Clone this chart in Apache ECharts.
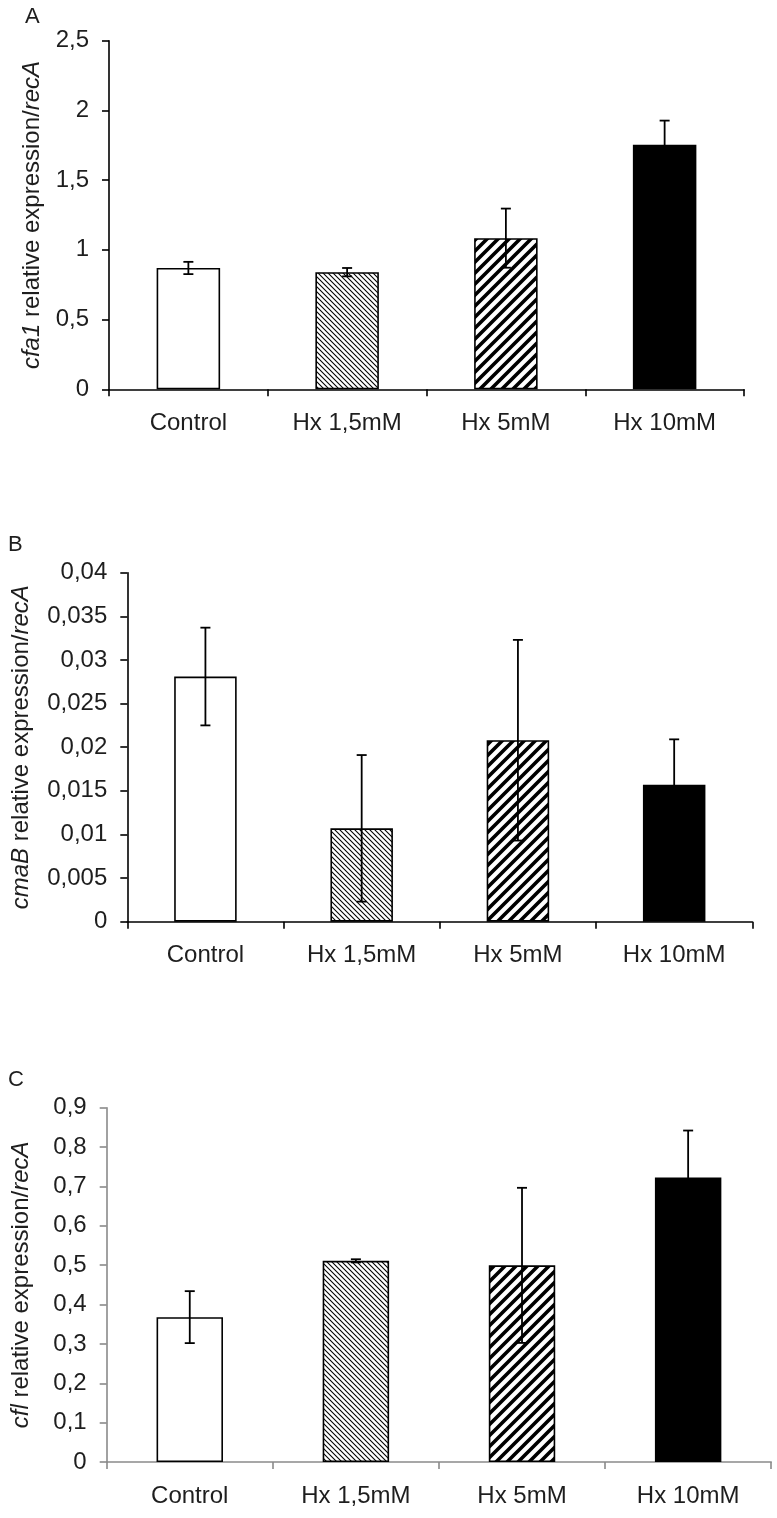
<!DOCTYPE html>
<html>
<head>
<meta charset="utf-8">
<script src="https://cdn.jsdelivr.net/npm/echarts@6/dist/echarts.min.js"></script>
<style>
html,body{margin:0;padding:0;background:#fff;}
#chart{width:777px;height:1518px;}
</style>
</head>
<body>
<div id="chart"></div>
<script>
// ---- data ----
var categories = ['Control', 'Hx 1,5mM', 'Hx 5mM', 'Hx 10mM'];

var cfa1Mean = [0.87, 0.84, 1.084, 1.753];
var cfa1Err  = [0.044, 0.03, 0.212, 0.174];

var cmaBMean = [0.0281, 0.0107, 0.0208, 0.0157];
var cmaBErr  = [0.0056, 0.0084, 0.0115, 0.0052];

var cflMean = [0.368, 0.511, 0.4995, 0.723];
var cflErr  = [0.066, 0.004, 0.197, 0.119];

var yMaxA = 2.5, yStepA = 0.5;
var yMaxB = 0.04, yStepB = 0.005;
var yMaxC = 0.9, yStepC = 0.1;

var panelLetters = ['A', 'B', 'C'];

// ---- styles ----
var FONT = '"Liberation Sans", Arial, sans-serif';
var TXT = '#1e1e1e';

function hatch(p, lw, dir) {
  var c = document.createElement('canvas');
  c.width = p; c.height = p;
  var ctx = c.getContext('2d');
  ctx.fillStyle = '#fff';
  ctx.fillRect(0, 0, p, p);
  ctx.strokeStyle = '#000';
  ctx.lineWidth = lw;
  ctx.lineCap = 'square';
  [-p, 0, p].forEach(function (k) {
    ctx.beginPath();
    if (dir === 'back') { ctx.moveTo(k, 0); ctx.lineTo(k + p, p); }
    else { ctx.moveTo(k, p); ctx.lineTo(k + p, 0); }
    ctx.stroke();
  });
  return c;
}
var fills = [
  '#ffffff',
  { image: hatch(5, 1.1, 'back'), repeat: 'repeat' },
  { image: hatch(11, 3.6, 'fwd'), repeat: 'repeat' },
  '#000000'
];

function fmt(v) { return String(parseFloat(v.toFixed(4))).replace('.', ','); }

var grids = [
  { left: 109, top: 40.7, width: 635, height: 348.6 },
  { left: 127.3, top: 572.7, width: 625, height: 349 },
  { left: 106.7, top: 1107.7, width: 664.5, height: 354.3 }
];
var axisColors = ['#000', '#000', '#8a8a8a'];
var names = [
  '{i|cfa1} relative expression/{i|recA}',
  '{i|cmaB} relative expression/{i|recA}',
  '{i|cfl} relative expression/{i|recA}'
];
var nameGaps = [61, 94, 73];
var yMax = [yMaxA, yMaxB, yMaxC];
var yStep = [yStepA, yStepB, yStepC];
var means = [cfa1Mean, cmaBMean, cflMean];
var errs = [cfa1Err, cmaBErr, cflErr];

var xAxes = [], yAxes = [], series = [];
for (var g = 0; g < 3; g++) {
  xAxes.push({
    type: 'category', gridIndex: g, data: categories,
    axisLine: { show: true, lineStyle: { color: axisColors[g], width: 1.6 } },
    axisTick: { show: true, length: 7, lineStyle: { color: axisColors[g], width: 1.6 } },
    axisLabel: { margin: 22, fontSize: 24, fontFamily: FONT, color: TXT }
  });
  yAxes.push({
    type: 'value', gridIndex: g, min: 0, max: yMax[g], interval: yStep[g],
    axisLine: { show: true, lineStyle: { color: axisColors[g], width: 1.6 } },
    axisTick: { show: true, length: 7, lineStyle: { color: axisColors[g], width: 1.6 } },
    splitLine: { show: false },
    axisLabel: { margin: 20, fontSize: 24, fontFamily: FONT, color: TXT, formatter: fmt },
    name: names[g], nameLocation: 'middle', nameGap: nameGaps[g],
    nameTextStyle: {
      fontSize: 24, fontFamily: FONT, color: TXT,
      rich: { i: { fontStyle: 'italic', fontSize: 24, fontFamily: FONT, color: TXT } }
    }
  });
  var barData = means[g].map(function (v, i) {
    return { value: v, itemStyle: { color: fills[i] } };
  });
  series.push({
    type: 'bar', xAxisIndex: g, yAxisIndex: g, data: barData, barWidth: '40%',
    itemStyle: { borderColor: '#000', borderWidth: 1.6 }, animation: false
  });
  var eb = means[g].map(function (v, i) { return [i, v - errs[g][i], v + errs[g][i]]; });
  series.push({
    type: 'custom', xAxisIndex: g, yAxisIndex: g, data: eb, z: 10, animation: false,
    renderItem: function (params, api) {
      var x = api.value(0);
      var lo = api.coord([x, api.value(1)]);
      var hi = api.coord([x, api.value(2)]);
      var hw = 5;
      var st = { stroke: '#000', lineWidth: 1.8 };
      return {
        type: 'group',
        children: [
          { type: 'line', shape: { x1: hi[0], y1: hi[1], x2: lo[0], y2: lo[1] }, style: st },
          { type: 'line', shape: { x1: hi[0] - hw, y1: hi[1], x2: hi[0] + hw, y2: hi[1] }, style: st },
          { type: 'line', shape: { x1: lo[0] - hw, y1: lo[1], x2: lo[0] + hw, y2: lo[1] }, style: st }
        ]
      };
    }
  });
}

var letterPos = [[25, 6], [8, 534], [8, 1069]];
var graphics = panelLetters.map(function (t, i) {
  return { type: 'text', left: letterPos[i][0], top: letterPos[i][1],
    style: { text: t, fontSize: 22, fontFamily: FONT, fill: TXT } };
});

var chart = echarts.init(document.getElementById('chart'), null, { renderer: 'canvas' });
chart.setOption({
  backgroundColor: '#fff',
  animation: false,
  grid: grids,
  xAxis: xAxes,
  yAxis: yAxes,
  series: series,
  graphic: graphics
});
</script>
</body>
</html>
